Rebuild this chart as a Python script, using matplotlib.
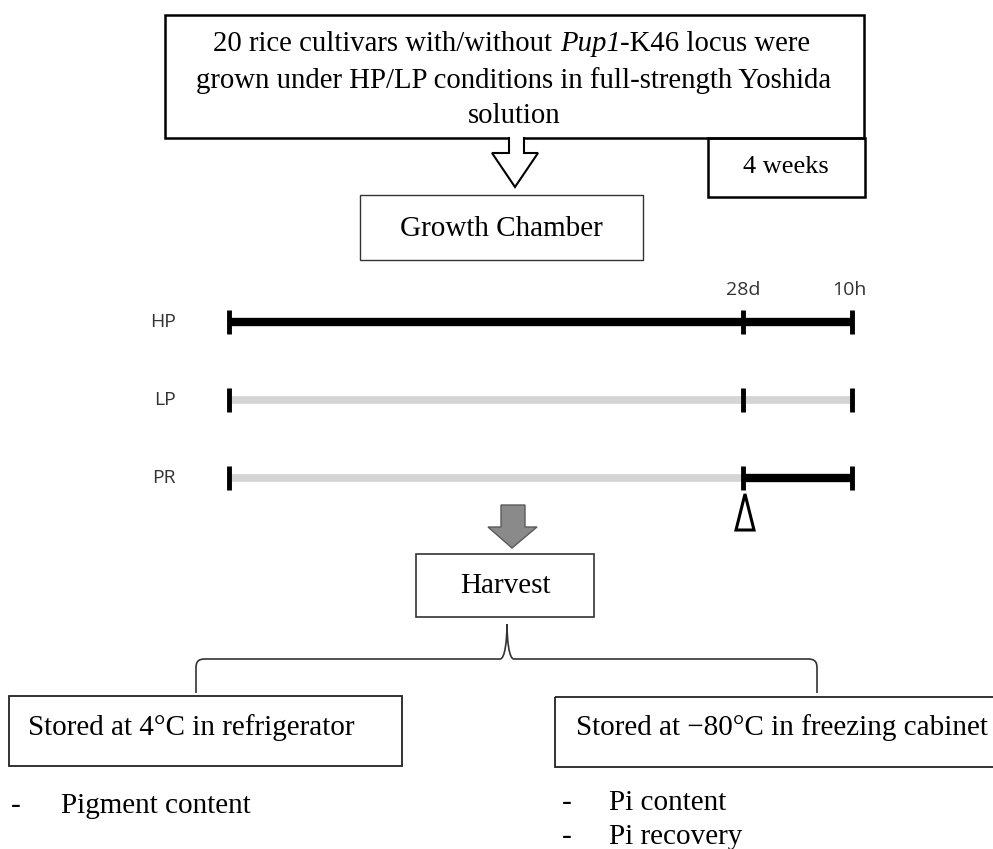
import matplotlib.pyplot as plt
from matplotlib.patches import Rectangle, Polygon, PathPatch
from matplotlib.path import Path
from matplotlib.offsetbox import TextArea, HPacker, AnnotationBbox

plt.rcParams['font.family'] = ['Liberation Serif', 'DejaVu Serif']

# text of the flow chart
top_line1 = ['20 rice cultivars with/without ', 'Pup1', '-K46 locus were']
top_lines = ['grown under HP/LP conditions in full-strength Yoshida', 'solution']
duration = '4 weeks'
step1 = 'Growth Chamber'
step2 = 'Harvest'
storage = ['Stored at 4°C in refrigerator', 'Stored at \u221280°C in freezing cabinet']
analyses = [['Pigment content'], ['Pi content', 'Pi recovery']]

# timeline of treatments
rows = ['HP', 'LP', 'PR']
stage_labels = ['28d', '10h']
first_stage = ['black', 'grey', 'grey']
second_stage = ['black', 'grey', 'black']

fig = plt.figure(figsize=(9.93, 8.49), dpi=100)
ax = fig.add_axes([0, 0, 1, 1])
ax.set_xlim(0, 993)
ax.set_ylim(849, 0)
ax.axis('off')

# top box
ax.add_patch(Rectangle((165, 15), 699, 123, fill=False, ec='black', lw=1.8))
parts = [TextArea(t, textprops=dict(fontsize=20.7, style='italic' if i == 1 else 'normal'))
         for i, t in enumerate(top_line1)]
line1 = HPacker(children=parts, pad=0, sep=0, align='baseline')
ab = AnnotationBbox(line1, (512, 44), xycoords='data', frameon=False,
                    box_alignment=(0.5, 0.5), pad=0)
ax.add_artist(ab)
for i, line in enumerate(top_lines):
    ax.text(514, 88 + i * 34.5, line, ha='center', va='baseline', fontsize=20.7)

# "4 weeks" box
ax.add_patch(Rectangle((708, 138), 157, 59, fill=False, ec='black', lw=1.8, zorder=3))
ax.text(786, 167, duration, ha='center', va='center', fontsize=19)

# hollow arrow
ax.add_patch(Polygon([(509, 135), (509, 153), (492, 153), (515, 187), (538, 153),
                      (524, 153), (524, 135)], closed=True, fc='white', ec='none', zorder=4))
ax.plot([509, 509, 492, 515, 538, 524, 524], [138, 153, 153, 187, 153, 153, 138],
        color='black', lw=1.5, zorder=5, solid_joinstyle='miter')

# growth chamber box
ax.add_patch(Rectangle((360, 195), 283, 65, fill=False, ec='#333333', lw=1.0))
ax.text(501, 229, step1, ha='center', va='center', fontsize=21)

# timeline
x_start, x_mid, x_end = 229, 743, 852
row_y = [322, 400, 478]
col = {'black': 'black', 'grey': '#d4d4d4'}
for name, y, c1, c2 in zip(rows, row_y, first_stage, second_stage):
    ax.plot([x_start, x_mid], [y, y], color=col[c1], lw=6 if c1 == 'black' else 5.5,
            solid_capstyle='butt')
    ax.plot([x_mid, x_end], [y, y], color=col[c2], lw=6 if c2 == 'black' else 5.5,
            solid_capstyle='butt')
    for x in (x_start, x_mid, x_end):
        ax.plot([x, x], [y - 12, y + 12], color='black', lw=3.5, solid_capstyle='butt')
    ax.text(176, y, name, ha='right', va='center', fontsize=14,
            family='Open Sans', color='#333333')
for lab, x in zip(stage_labels, (x_mid, x_end - 3)):
    ax.text(x, 290, lab, ha='center', va='center', fontsize=14,
            family='Open Sans', color='#333333')

# recovery marker
ax.add_patch(Polygon([(745, 494), (736, 530), (754, 530)], closed=True,
                     fc='white', ec='black', lw=2.2))

# grey arrow
ax.add_patch(Polygon([(501, 505), (501, 527), (488, 527), (512, 548), (537, 527),
                      (525, 527), (525, 505)], closed=True, fc='#8a8a8a',
                     ec='#5a5a5a', lw=1.0))

# harvest box
ax.add_patch(Rectangle((416, 554), 178, 63, fill=False, ec='#333333', lw=1.2))
ax.text(505, 586, step2, ha='center', va='center', fontsize=21)

# brace
verts = [(196, 693), (196, 668), (196, 662), (198, 659), (205, 659),
         (500, 659), (505, 659), (507, 640), (507, 624),
         (507, 640), (509, 659), (514, 659),
         (808, 659), (815, 659), (817, 662), (817, 668), (817, 693)]
codes = [Path.MOVETO, Path.LINETO, Path.CURVE4, Path.CURVE4, Path.CURVE4,
         Path.LINETO, Path.CURVE4, Path.CURVE4, Path.CURVE4,
         Path.CURVE4, Path.CURVE4, Path.CURVE4,
         Path.LINETO, Path.CURVE4, Path.CURVE4, Path.CURVE4, Path.LINETO]
ax.add_patch(PathPatch(Path(verts, codes), fill=False, ec='#333333', lw=1.2))

# storage boxes
ax.add_patch(Rectangle((9, 696), 393, 70, fill=False, ec='#222222', lw=1.3))
ax.add_patch(Rectangle((555, 697), 460, 70, fill=False, ec='#222222', lw=1.3))
box_text_x = [28, 576]
for s, x in zip(storage, box_text_x):
    ax.text(x, 728, s, ha='left', va='center', fontsize=21)

# analyses lists
dash_x = [11, 562]
item_x = [61, 609]
item_y0 = [813, 810]
for items, dx, tx, y0 in zip(analyses, dash_x, item_x, item_y0):
    for j, it in enumerate(items):
        ax.text(dx, y0 + j * 34, '-', ha='left', va='baseline', fontsize=21)
        ax.text(tx, y0 + j * 34, it, ha='left', va='baseline', fontsize=21)

fig.savefig('out.png', dpi=100)
